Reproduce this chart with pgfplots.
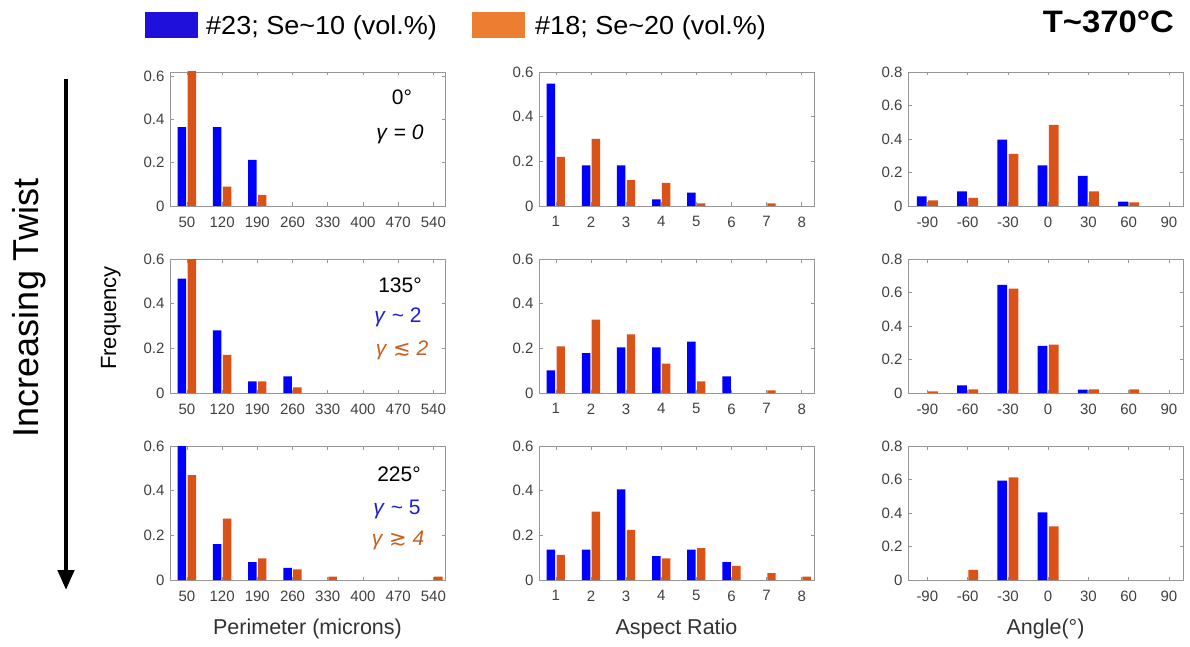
\documentclass[border=0pt]{standalone}
\usepackage{pgfplots}
\pgfplotsset{compat=1.18}
\usepackage{fontspec}
\usetikzlibrary{arrows.meta}
\setmainfont{Liberation Sans}
\newfontfamily\legfont[FakeStretch=1.04]{Liberation Sans}
\newfontfamily\titfont[FakeStretch=1.06]{Liberation Sans}
\newfontfamily\dejavu{DejaVu Sans}
\definecolor{mblue}{RGB}{0,0,255}
\definecolor{morange}{RGB}{217,83,25}
\definecolor{legblue}{RGB}{32,16,220}
\definecolor{legorange}{RGB}{237,125,49}
\definecolor{axgray}{RGB}{150,150,150}
\definecolor{tickgray}{RGB}{64,64,64}
\definecolor{labgray}{RGB}{50,50,50}
\definecolor{txtblue}{RGB}{30,30,210}
\definecolor{txtorange}{RGB}{200,95,30}
\pgfplotsset{
  panel/.style={
    scale only axis, width=275pt, height=134pt,
    anchor=south west,
    axis line style={draw=axgray, line width=0.7pt},
    every tick/.style={draw=axgray, line width=0.6pt},
    major tick length=3.5pt,
    tick align=inside,
    ymin=0, xmin=0.52,
    ticklabel style={font=\fontsize{15}{15}\selectfont, text=tickgray},
    xticklabel style={yshift=-7pt},
    yticklabel style={xshift=-2pt},
    every axis x label/.style={at={(axis description cs:0.5,0)}, anchor=center, yshift=-49pt, font=\fontsize{21.5}{21.5}\selectfont, text=labgray},
  },
  perim/.style={panel, xmax=8.33, xtick={1,2,3,4,5,6,7,8},
    xticklabels={50,120,190,260,330,400,470,540},
    ymax=0.6, ytick={0,0.2,0.4,0.6}, yticklabels={0,0.2,0.4,0.6}},
  aspect/.style={panel, xmax=8.35, xtick={1,2,3,4,5,6,7,8},
    xticklabels={1,2,3,4,5,6,7,8},
    ymax=0.6, ytick={0,0.2,0.4,0.6}, yticklabels={0,0.2,0.4,0.6}},
  angle/.style={panel, xmax=7.35, xtick={1,2,3,4,5,6,7},
    xticklabels={-90,-60,-30,0,30,60,90},
    ymax=0.8, ytick={0,0.2,0.4,0.6,0.8}, yticklabels={0,0.2,0.4,0.6,0.8}},
  bblue/.style={ybar, bar width=0.24, bar shift=-0.14, fill=mblue, draw=none},
  borange/.style={ybar, bar width=0.24, bar shift=0.14, fill=morange, draw=none},
}
\newcommand{\an}{\fontsize{21}{21}\selectfont}
\begin{document}
\begin{tikzpicture}
\path[use as bounding box] (0pt,0pt) rectangle (1190pt,646pt);

% ---------------- Row 1 ----------------
\begin{axis}[perim, ymax=0.62, at={(170pt,440pt)}]
\addplot[bblue] coordinates {(1,0.365) (2,0.365) (3,0.213)};
\addplot[borange] coordinates {(1,0.65) (2,0.09) (3,0.051)};
\end{axis}
\begin{axis}[aspect, at={(539pt,440pt)}]
\addplot[bblue] coordinates {(1,0.548) (2,0.182) (3,0.182) (4,0.03) (5,0.06)};
\addplot[borange] coordinates {(1,0.22) (2,0.30) (3,0.116) (4,0.103) (5,0.012) (7,0.012)};
\end{axis}
\begin{axis}[angle, at={(908pt,440pt)}]
\addplot[bblue] coordinates {(1,0.057) (2,0.087) (3,0.396) (4,0.242) (5,0.18) (6,0.026)};
\addplot[borange] coordinates {(1,0.034) (2,0.048) (3,0.311) (4,0.485) (5,0.087) (6,0.022)};
\end{axis}

% ---------------- Row 2 ----------------
\begin{axis}[perim, at={(170pt,253pt)}]
\addplot[bblue] coordinates {(1,0.512) (2,0.28) (3,0.052) (4,0.075)};
\addplot[borange] coordinates {(1,0.62) (2,0.171) (3,0.052) (4,0.025)};
\end{axis}
\begin{axis}[aspect, at={(539pt,253pt)}]
\addplot[bblue] coordinates {(1,0.101) (2,0.179) (3,0.204) (4,0.204) (5,0.23) (6,0.075)};
\addplot[borange] coordinates {(1,0.209) (2,0.328) (3,0.263) (4,0.131) (5,0.052) (7,0.012)};
\end{axis}
\begin{axis}[angle, at={(908pt,253pt)}]
\addplot[bblue] coordinates {(2,0.046) (3,0.645) (4,0.281) (5,0.02)};
\addplot[borange] coordinates {(1,0.01) (2,0.022) (3,0.623) (4,0.289) (5,0.022) (6,0.022)};
\end{axis}

% ---------------- Row 3 ----------------
\begin{axis}[perim, at={(170pt,66pt)}, xlabel={Perimeter (microns)}]
\addplot[bblue] coordinates {(1,0.61) (2,0.161) (3,0.08) (4,0.054)};
\addplot[borange] coordinates {(1,0.47) (2,0.275) (3,0.097) (4,0.048) (5,0.015) (8,0.015)};
\end{axis}
\begin{axis}[aspect, at={(539pt,66pt)}, xlabel={Aspect Ratio}]
\addplot[bblue] coordinates {(1,0.136) (2,0.136) (3,0.406) (4,0.107) (5,0.136) (6,0.08)};
\addplot[borange] coordinates {(1,0.112) (2,0.306) (3,0.225) (4,0.097) (5,0.143) (6,0.063) (7,0.031) (8,0.015)};
\end{axis}
\begin{axis}[angle, at={(908pt,66pt)}, xlabel={Angle(°)}]
\addplot[bblue] coordinates {(3,0.594) (4,0.404)};
\addplot[borange] coordinates {(2,0.06) (3,0.612) (4,0.32)};
\end{axis}

% ---------------- Annotations ----------------
\node[font=\an] at (402pt,549pt) {0°};
\node[font=\an] at (400pt,512pt) {\textit{γ} = \textit{0}};
\node[font=\an] at (400pt,361pt) {135°};
\node[font=\an, text=txtblue] at (398pt,329pt) {\textit{γ} \textasciitilde{} 2};
\node[font=\an, text=txtorange] at (402pt,296pt) {\textit{γ} {\dejavu ≲} \textit{2}};
\node[font=\an] at (399pt,172pt) {225°};
\node[font=\an, text=txtblue] at (397pt,137pt) {\textit{γ} \textasciitilde{} 5};
\node[font=\an, text=txtorange] at (398pt,106pt) {\textit{γ} {\dejavu ≳} \textit{4}};

% ---------------- Legend & title ----------------
\fill[legblue] (145pt,634pt) rectangle (198pt,608pt);
\node[anchor=base west, inner sep=0pt, font=\legfont\fontsize{26}{26}\selectfont] at (206pt,611pt) {\#23; Se\textasciitilde10 (vol.\%)};
\fill[legorange] (472pt,634pt) rectangle (525pt,608pt);
\node[anchor=base west, inner sep=0pt, font=\legfont\fontsize{26}{26}\selectfont] at (535pt,611pt) {\#18; Se\textasciitilde20 (vol.\%)};
\node[anchor=base east, inner sep=0pt, font=\titfont\bfseries\fontsize{31}{31}\selectfont] at (1174pt,613pt) {T\textasciitilde370°C};

% ---------------- Left labels ----------------
\draw[line width=4.5pt, -{Triangle[width=16pt,length=20pt]}] (66pt,567pt) -- (66pt,56pt);
\node[rotate=90, anchor=base, inner sep=0pt, font=\fontsize{36}{36}\selectfont] at (38pt,338pt) {Increasing Twist};
\node[rotate=90, anchor=base, inner sep=0pt, font=\fontsize{22}{22}\selectfont, text=black] at (116pt,328pt) {Frequency};
\end{tikzpicture}
\end{document}
